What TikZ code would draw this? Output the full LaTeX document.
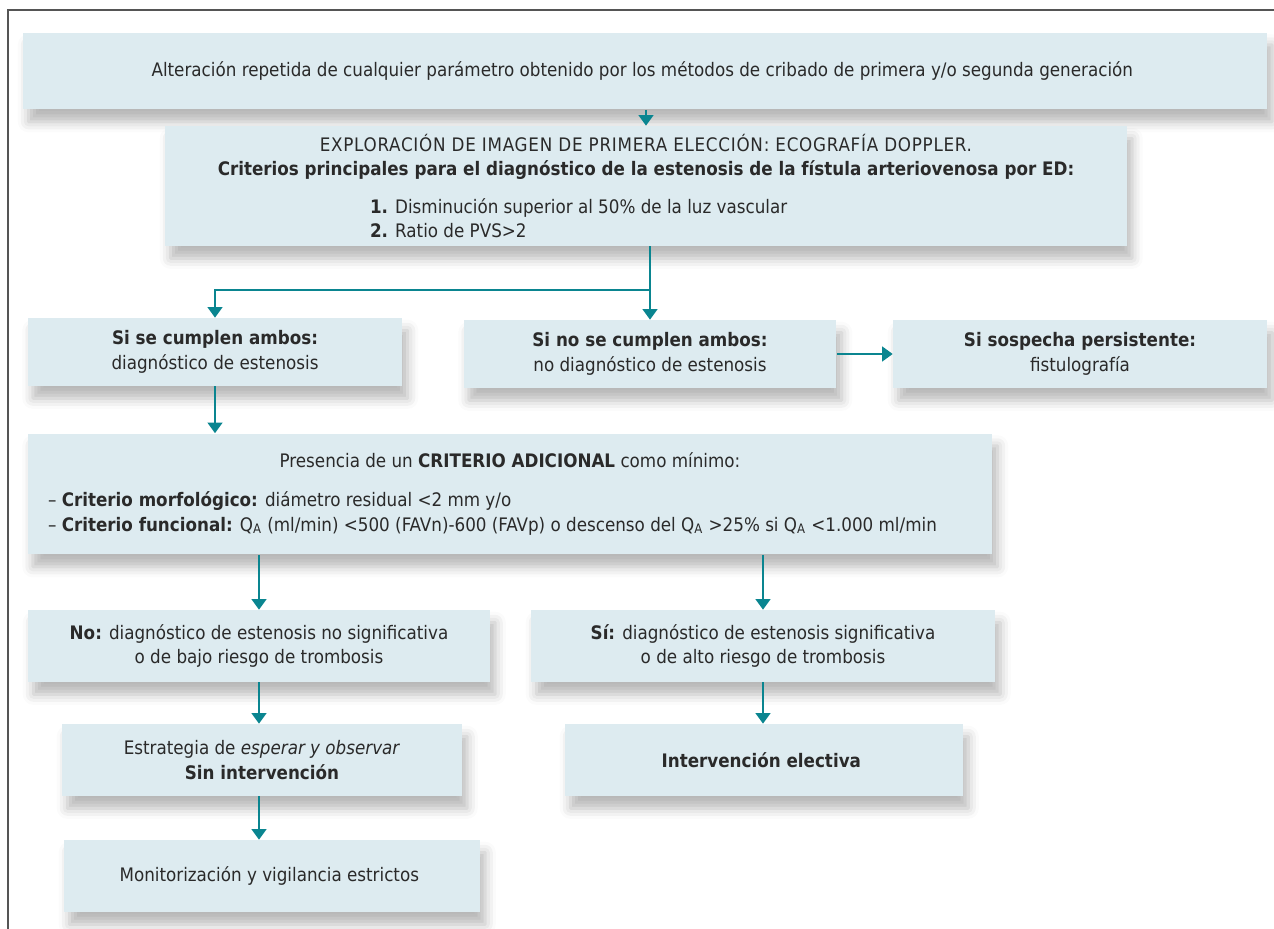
\documentclass[tikz,border=0pt]{standalone}
\usepackage{fontspec}
\setmainfont{DejaVu Sans Condensed}[BoldFont={DejaVu Sans Condensed Bold},ItalicFont={DejaVu Sans Condensed Oblique}]
\usetikzlibrary{arrows.meta,shadows.blur}
\definecolor{fondo}{HTML}{DDEBF0}
\definecolor{flechas}{HTML}{0A8590}
\definecolor{texto}{HTML}{2A2A2A}
\definecolor{marco}{HTML}{555555}
\newcommand{\QA}{Q\textsubscript{A}}

\begin{document}
\begin{tikzpicture}[x=0.02cm, y=-0.02cm,
    caja/.style={fill=fondo, inner sep=0pt, align=center, text=texto,
        font=\fontsize{10.6}{14}\selectfont,
        blur shadow={shadow xshift=3pt, shadow yshift=-7pt, shadow blur radius=6pt, shadow opacity=28}},
    flecha/.style={draw=flechas, line width=0.8pt, -{Triangle[width=8.5pt,length=6pt]}},
    linea/.style={draw=flechas, line width=0.8pt}]
        \useasboundingbox (0,0) rectangle (1274,929);
        \draw[marco, line width=0.6pt] (8,929) -- (8,10) -- (1274,10);

        % Caja inicial
        \node[caja, minimum width=24.88cm, minimum height=1.54cm] (inicio) at (645,71) {
            Alteración repetida de cualquier parámetro obtenido por los métodos de cribado de primera y/o segunda generación
        };

        % Ecografía Doppler
        \node[caja, minimum width=19.24cm, minimum height=2.4cm] (eco) at (646,186) {
            \addfontfeatures{LetterSpace=4}EXPLORACIÓN DE IMAGEN DE PRIMERA ELECCIÓN: ECOGRAFÍA DOPPLER.\\
            \textbf{Criterios principales para el diagnóstico de la estenosis de la fístula arteriovenosa por ED:}\\[0.26cm]
            \makebox[11.04cm][l]{\textbf{1.} Disminución superior al 50\% de la luz vascular}\\
            \makebox[11.04cm][l]{\textbf{2.} Ratio de PVS>2}
        };

        % Resultados de la ecografía
        \node[caja, minimum width=7.5cm, minimum height=1.36cm] (ambos) at (215,352) {
            \textbf{Si se cumplen ambos:}\\diagnóstico de estenosis
        };
        \node[caja, minimum width=7.46cm, minimum height=1.36cm] (noambos) at (650,354) {
            \textbf{Si no se cumplen ambos:}\\no diagnóstico de estenosis
        };
        \node[caja, minimum width=7.48cm, minimum height=1.36cm] (fistulo) at (1080,354) {
            \textbf{Si sospecha persistente:}\\fistulografía
        };

        % Criterio adicional
        \node[caja, minimum width=19.3cm, minimum height=2.42cm] (adicional) at (510,494) {
            Presencia de un \textbf{CRITERIO ADICIONAL} como mínimo:\\[0.28cm]
            \makebox[18.48cm][l]{– \textbf{Criterio morfológico:} diámetro residual <2 mm y/o}\\
            \makebox[18.48cm][l]{– \textbf{Criterio funcional:} \QA{} (ml/min) <500 (FAVn)-600 (FAVp) o descenso del \QA{} >25\% si \QA{} <1.000 ml/min}
        };

        % Significancia
        \node[caja, minimum width=9.24cm, minimum height=1.44cm] (nosig) at (259,646) {
            \textbf{No:} diagnóstico de estenosis no significativa\\o de bajo riesgo de trombosis
        };
        \node[caja, minimum width=9.28cm, minimum height=1.44cm] (sisig) at (763,646) {
            \textbf{Sí:} diagnóstico de estenosis significativa\\o de alto riesgo de trombosis
        };

        % Actuaciones
        \node[caja, minimum width=8cm, minimum height=1.44cm] (esperar) at (262,760) {
            Estrategia de \textit{esperar y observar}\\\textbf{Sin intervención}
        };
        \node[caja, minimum width=7.96cm, minimum height=1.44cm] (electiva) at (764,760) {
            \textbf{Intervención electiva}
        };
        \node[caja, minimum width=8.32cm, minimum height=1.44cm] (monitor) at (272,876) {
            Monitorización y vigilancia estrictos
        };

        % Flechas
        \coordinate (rama) at (650,290);
        \draw[flecha] (inicio.south -| eco.north) -- (eco.north);
        \draw[linea] (eco.south -| noambos.north) -- (rama);
        \draw[flecha] (rama) -- (noambos.north);
        \draw[flecha] (rama) -| (ambos.north);
        \draw[flecha] (noambos.east) -- (fistulo.west);
        \draw[flecha] (ambos.south) -- (ambos.south |- adicional.north);
        \draw[flecha] (nosig.north |- adicional.south) -- (nosig.north);
        \draw[flecha] (sisig.north |- adicional.south) -- (sisig.north);
        \draw[flecha] (nosig.south) -- (nosig.south |- esperar.north);
        \draw[flecha] (sisig.south) -- (sisig.south |- electiva.north);
        \draw[flecha] (nosig.south |- esperar.south) -- (nosig.south |- monitor.north);
    \end{tikzpicture}
\end{document}
